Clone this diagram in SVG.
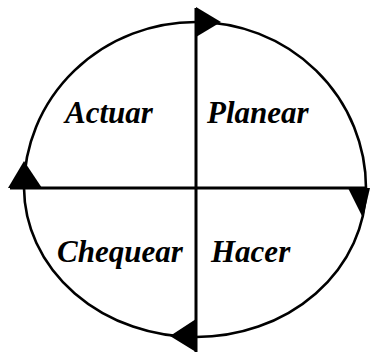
<svg xmlns="http://www.w3.org/2000/svg" width="371" height="352" viewBox="0 0 371 352">
<style>
.arc{fill:none;stroke:#000;stroke-width:2.6}
.ln{fill:none;stroke:#000;stroke-width:3}
.hd{fill:#000;stroke:none}
.lb{font-family:"Liberation Serif","Times New Roman",serif;font-weight:bold;font-style:italic;font-size:31px;fill:#000}
</style>
<rect width="371" height="352" fill="#fff"/>
<g id="cycle">
<path class="arc" d="M24,188 A172,166 0 0 1 196,22"/>
<path class="arc" d="M196,22 A170,166 0 0 1 366,188"/>
<path class="arc" d="M366,188 A170,150 0 0 1 196,337"/>
<path class="arc" d="M196,337 A172,150 0 0 1 24,188"/>
</g>
<g id="connectors">
<line class="ln" x1="196" y1="8" x2="196" y2="352"/>
<line class="ln" x1="10" y1="188" x2="366" y2="188"/>
<polygon class="hd" points="196,7 221,22 196,37"/>
<polygon class="hd" points="8,188 24,161 42,188"/>
<polygon class="hd" points="348,188 370,188 363,218"/>
<polygon class="hd" points="196,319 196,352 170,336"/>
</g>
<g id="actuar"><text class="lb" x="65" y="123">Actuar</text></g>
<g id="planear"><text class="lb" x="207" y="123">Planear</text></g>
<g id="chequear"><text class="lb" x="57" y="262">Chequear</text></g>
<g id="hacer"><text class="lb" x="211" y="262">Hacer</text></g>
</svg>
